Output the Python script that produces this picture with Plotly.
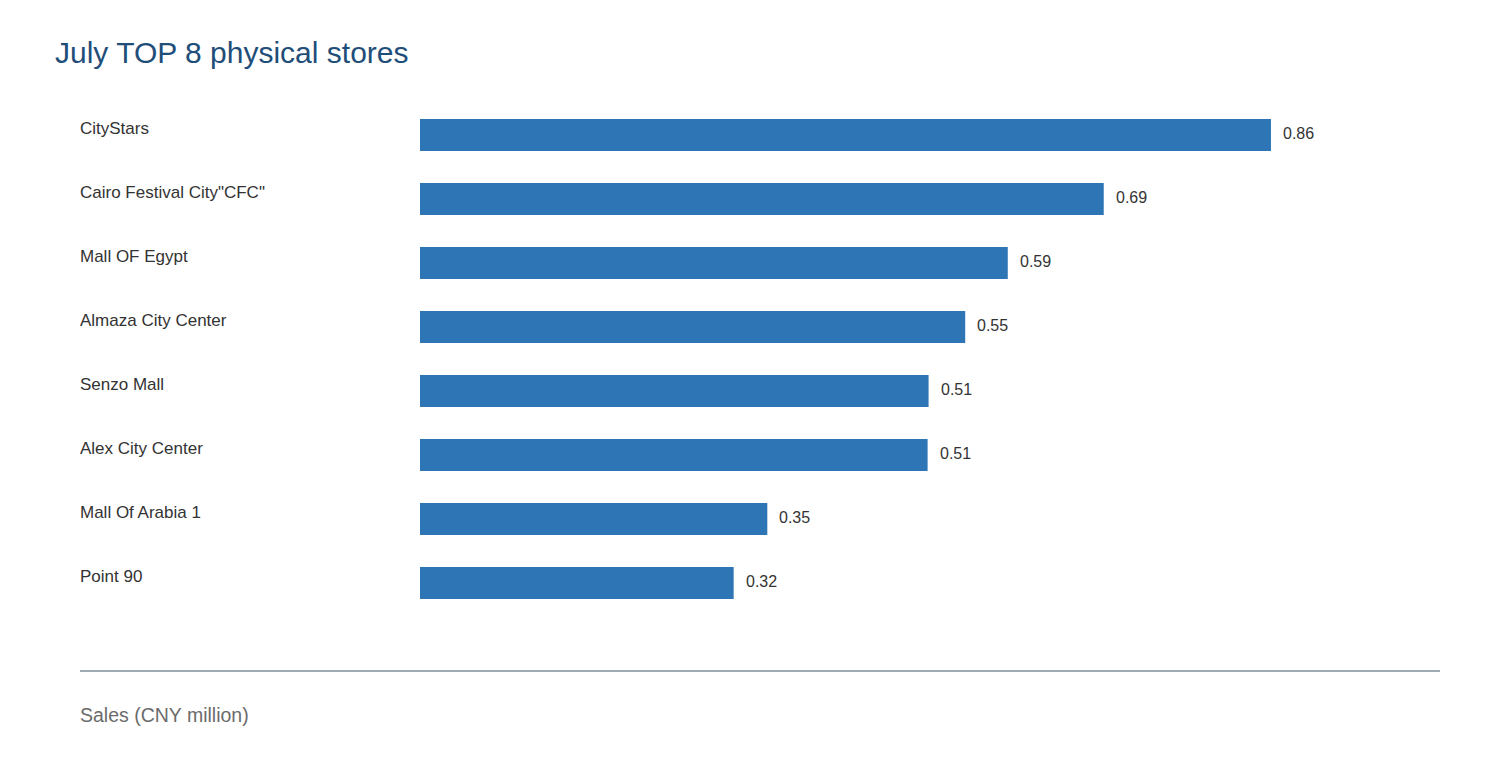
import plotly.graph_objects as go

stores = ["CityStars", 'Cairo Festival City"CFC"', "Mall OF Egypt", "Almaza City Center",
          "Senzo Mall", "Alex City Center", "Mall Of Arabia 1", "Point 90"]
# sales, CNY million (labels shown rounded to 2 decimals)
sales = [0.860, 0.691, 0.594, 0.551, 0.514, 0.513, 0.351, 0.317]

W, H = 1500, 760
OFF = 8  # page offset in the screenshot
ML, MT = 420 - OFF, 103 - OFF
MR = W - 1440 + OFF
MB = H - 615 + OFF
PW = W - ML - MR
PH = H - MT - MB


def px_x(x):
    return (x - OFF - ML) / PW


def px_y(y):
    return (H - MB - (y - OFF)) / PH


fig = go.Figure()

fig.add_trace(
    go.Bar(
        x=sales,
        y=stores,
        orientation="h",
        width=0.5,
        marker=dict(color="#2e75b6", line=dict(width=0)),
        hoverinfo="x+y",
    )
)

# store names, left-aligned
for s in stores:
    fig.add_annotation(x=px_x(78), xref="paper", y=s, yref="y", text=s,
                       xanchor="left", yanchor="middle", yshift=7, showarrow=False,
                       font=dict(size=17, color="#333333"))

# value labels
for s, v in zip(stores, sales):
    fig.add_annotation(x=v, y=s, text=f"{v:.2f}", xanchor="left", yanchor="middle",
                       xshift=10, yshift=2, showarrow=False,
                       font=dict(size=16, color="#333333"))

fig.add_shape(type="line", xref="paper", yref="paper",
              x0=px_x(80), x1=px_x(1440), y0=px_y(671), y1=px_y(671),
              line=dict(color="#a0aab4", width=2))

fig.add_annotation(x=px_x(78), y=px_y(715), xref="paper", yref="paper",
                   text="Sales (CNY million)", xanchor="left", yanchor="middle",
                   showarrow=False, font=dict(size=19.5, color="#6b6b6b"))

fig.update_xaxes(range=[0, PW / 989.5], visible=False, fixedrange=True)
fig.update_yaxes(categoryorder="array", categoryarray=stores[::-1],
                 range=[-0.5, 7.5], showticklabels=False, showgrid=False,
                 zeroline=False, showline=False, fixedrange=True)

fig.update_layout(
    title=dict(text="July TOP 8 physical stores", x=(55 - OFF) / W, xanchor="left",
               y=1 - (52 - OFF) / H, yanchor="middle",
               font=dict(size=30, color="#1f4e79")),
    width=W,
    height=H,
    margin=dict(l=ML, r=MR, t=MT, b=MB),
    font=dict(family="Liberation Sans, Arial, sans-serif"),
    template="plotly_white",
    plot_bgcolor="white",
    paper_bgcolor="white",
    showlegend=False,
)

fig.write_html("out.html")
